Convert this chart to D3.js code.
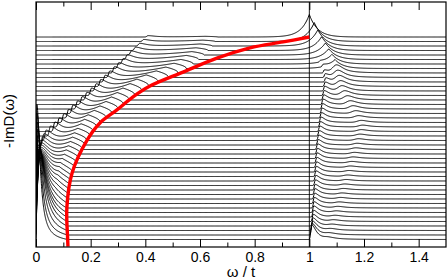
<!DOCTYPE html>
<html lang="en">
<head>
<meta charset="UTF-8" />
<title>-ImD(ω) spectra</title>
<script src="https://cdn.jsdelivr.net/npm/d3@7"></script>
<style>
  body { margin: 0; background: #fff; }
  svg { display: block; font-family: "Liberation Sans", Arial, sans-serif; }
</style>
</head>
<body>
<svg width="447" height="280"></svg>
<script>
// axis ticks (omega / t)
const xTicks = [0, 0.2, 0.4, 0.6, 0.8, 1, 1.2, 1.4];
const xMinorTicks = [0.1, 0.3, 0.5, 0.7, 0.9, 1.1, 1.3];

// one entry per spectrum, bottom spectrum first; amplitudes in offset units
// damped mode peak
const peakPos = [0.003,0.0035,0.004,0.0045,0.005,0.006,0.007,0.008,0.009,0.010,0.011,0.012,0.013,0.014,0.015,0.016,0.017,0.018,0.019,0.021,0.024,0.029,0.037,0.053,0.069,0.085,0.102,0.119,0.135,0.152,0.169,0.186,0.203,0.220,0.237,0.253,0.270,0.287,0.303,0.319,0.334,0.349,0.364,0.379,0.394,0.410];
const peakAmp = [30,27,24,21.5,19,17,15,13.5,12,10.8,9.6,8.5,7.5,6.6,5.8,5.1,4.5,4.0,3.5,3.1,2.8,2.5,2.3,2.2,2.1,2.0,1.95,1.9,1.85,1.8,1.75,1.7,1.65,1.6,1.55,1.5,1.45,1.4,1.3,1.2,1.05,0.9,0.75,0.6,0.45,0.3];
const peakWidth = [0.014,0.017,0.021,0.025,0.028,0.030,0.031,0.032,0.033,0.034,0.035,0.036,0.037,0.037,0.038,0.038,0.038,0.037,0.036,0.035,0.034,0.033,0.031,0.029,0.028,0.028,0.028,0.028,0.028,0.028,0.028,0.028,0.028,0.028,0.029,0.029,0.029,0.03,0.03,0.03,0.03,0.03,0.03,0.03,0.03,0.03];
// continuum: rises up to its edge, then drops
const contEdge = [0.071,0.071,0.070,0.069,0.069,0.068,0.068,0.068,0.070,0.072,0.075,0.077,0.080,0.083,0.085,0.089,0.096,0.104,0.111,0.119,0.126,0.134,0.141,0.153,0.165,0.178,0.191,0.213,0.234,0.256,0.276,0.297,0.318,0.344,0.369,0.403,0.440,0.475,0.505,0.530,0.550,0.570,0.585,0.600,0.610,0.620];
const contAmp = [0,0,0,0,0,0,0,0,0.3,0.5,0.7,0.85,1.0,1.1,1.2,1.3,1.4,1.5,1.6,1.6,1.6,1.6,1.6,1.6,1.6,1.6,1.6,1.6,1.6,1.6,1.6,1.6,1.6,1.6,1.6,1.55,1.45,1.3,1.15,1.0,0.9,0.75,0.6,0.45,0.3,0.15];
// structures above omega = t
const bandPos = [1.07,1.075,1.08,1.085,1.09,1.095,1.10,1.105,1.11,1.115,1.12,1.125,1.13,1.135,1.14,1.145,1.15,1.155,1.16,1.165,1.17,1.175,1.18,1.185,1.19,1.195,1.19,1.18,1.17,1.16,1.15,1.14,1.13,1.12,1.115,1.11,1.105,1.10,1.094,1.083,1.071,1.059,1.045,1.031,1.018,1.000];
const bandAmp = [0.3,0.3,0.3,0.3,0.3,0.3,0.3,0.3,0.3,0.3,0.3,0.3,0.3,0.3,0.3,0.3,0.31,0.32,0.33,0.34,0.35,0.36,0.38,0.4,0.4,0.4,0.45,0.5,0.6,0.7,0.8,0.9,1.0,1.1,1.2,1.35,1.5,1.7,1.9,2.1,2.4,2.7,3.1,3.6,4.2,5.0];
const edgePos = [1.008,1.010,1.012,1.013,1.014,1.015,1.016,1.017,1.018,1.019,1.020,1.021,1.022,1.023,1.024,1.025,1.026,1.027,1.028,1.029,1.030,1.032,1.034,1.036,1.038,1.040,1.042,1.044,1.046,1.048,1.050,1.052,1.054,1.056,1.058,1.060,1.058,1.055,1.050,1.040,1.0,1.0,1.0,1.0,1.0,1.0];
const edgeAmp = [3.3,2.6,2.1,1.8,1.6,1.5,1.45,1.4,1.35,1.3,1.3,1.25,1.25,1.25,1.25,1.25,1.25,1.25,1.25,1.25,1.25,1.2,1.2,1.2,1.2,1.2,1.2,1.2,1.2,1.2,1.2,1.15,1.1,1.05,1.0,0.95,0.85,0.7,0.5,0.3,0,0,0,0,0,0];

// red dispersion curve: offset level vs omega
const redLevel = [-1.6, -0.1, 7.2, 14.8, 22.1, 25.9, 28.8, 31.7, 34.1, 37.2, 40.3, 42.6, 43.9, 45.0];
const redOmega = [0.117, 0.116, 0.113, 0.132, 0.187, 0.234, 0.296, 0.355, 0.417, 0.538, 0.662, 0.783, 0.904, 1.0];

const svg = d3.select('svg');
const plotLeft = 36, plotRight = 446, plotTop = 2, plotBottom = 247;
const dropWidth = 0.045;

const x = d3.scaleLinear().domain([0, 1.5]).range([plotLeft, plotRight]);
const y = d3.scaleLinear().domain([0, 45]).range([239.5, 37]);

function peak(w, c, amp, sl, sr) {
  const d = w - c;
  if (d < 0) return amp * Math.exp(-(d / sl) * (d / sl));
  return amp / (1 + (d / sr) * (d / sr));
}
function cusp(w, c, amp, sl, sr) {
  const d = w - c;
  return amp * Math.exp(-Math.abs(d) / (d < 0 ? sl : sr));
}

function lowPart(w, i) {
  const p = peakPos[i], e = contEdge[i], r = e + dropWidth;
  let v = peak(w, p, peakAmp[i], Math.min(0.006, p * 0.4), peakWidth[i]);
  if (w > p) v *= Math.max(0, 1 - Math.pow((w - p) / (r - p), 3));
  if (w > p && w <= e) v += contAmp[i] * Math.pow((w - p) / (e - p), 2);
  if (w > e && w < r) v += contAmp[i] * Math.sqrt(1 - (w - e) / dropWidth);
  return v;
}

const grid = d3.range(0, 0.06, 0.0004).concat(d3.range(0.06, 1.5005, 0.002));

const spectra = peakPos.map((_, i) => grid.map(w => {
  let v = i + lowPart(w, i);
  v += i >= 38 ? cusp(w, bandPos[i], bandAmp[i], 0.03, 0.03)
               : peak(w, bandPos[i], bandAmp[i], 0.02, 0.03);
  v += peak(w, edgePos[i], edgeAmp[i], 0.004, 0.02);
  return [w, v];
}));

svg.append('clipPath').attr('id', 'plot')
  .append('rect').attr('x', plotLeft).attr('y', plotTop)
  .attr('width', plotRight - plotLeft).attr('height', plotBottom - plotTop);

const line = d3.line().x(d => x(d[0])).y(d => y(d[1]));

const g = svg.append('g').attr('clip-path', 'url(#plot)');

g.selectAll('path.spec')
  .data(spectra)
  .enter().append('path')
  .attr('class', 'spec')
  .attr('d', line)
  .attr('fill', 'none')
  .attr('stroke', '#000')
  .attr('stroke-width', 1);

g.append('line')
  .attr('x1', x(1)).attr('x2', x(1))
  .attr('y1', plotTop).attr('y2', plotBottom)
  .attr('stroke', '#000').attr('stroke-width', 0.9);

const redLine = d3.line()
  .x(d => x(d[0])).y(d => y(d[1]))
  .curve(d3.curveCatmullRom);

g.append('path')
  .datum(redOmega.map((w, j) => [w, redLevel[j]]))
  .attr('d', redLine)
  .attr('fill', 'none')
  .attr('stroke', '#ff0000')
  .attr('stroke-width', 3.4);

// frame
svg.append('rect')
  .attr('x', plotLeft).attr('y', plotTop)
  .attr('width', plotRight - plotLeft).attr('height', plotBottom - plotTop)
  .attr('fill', 'none').attr('stroke', '#000').attr('stroke-width', 1.2);

// ticks, pointing inward
const fmt = d3.format('~g');
const xb = svg.append('g').attr('transform', `translate(0,${plotBottom})`)
  .call(d3.axisBottom(x).tickValues(xTicks).tickSize(-8).tickPadding(5).tickFormat(fmt));
svg.append('g').attr('transform', `translate(0,${plotBottom})`)
  .call(d3.axisBottom(x).tickValues(xMinorTicks).tickSize(-4.5).tickFormat(''));
svg.append('g').attr('transform', `translate(0,${plotTop})`)
  .call(d3.axisTop(x).tickValues(xTicks).tickSize(-8).tickFormat(''));
svg.append('g').attr('transform', `translate(0,${plotTop})`)
  .call(d3.axisTop(x).tickValues(xMinorTicks).tickSize(-4.5).tickFormat(''));

svg.selectAll('.domain').remove();
svg.selectAll('.tick line').attr('stroke', '#000');
xb.selectAll('text')
  .attr('font-size', 14)
  .attr('font-family', '"Liberation Sans", Arial, sans-serif')
  .attr('fill', '#000');

svg.append('text')
  .attr('x', (plotLeft + plotRight) / 2).attr('y', 277)
  .attr('text-anchor', 'middle')
  .attr('font-size', 15)
  .text('ω / t');

svg.append('text')
  .attr('transform', 'translate(14,121) rotate(-90)')
  .attr('text-anchor', 'middle')
  .attr('font-size', 15)
  .text('-ImD(ω)');
</script>
</body>
</html>
